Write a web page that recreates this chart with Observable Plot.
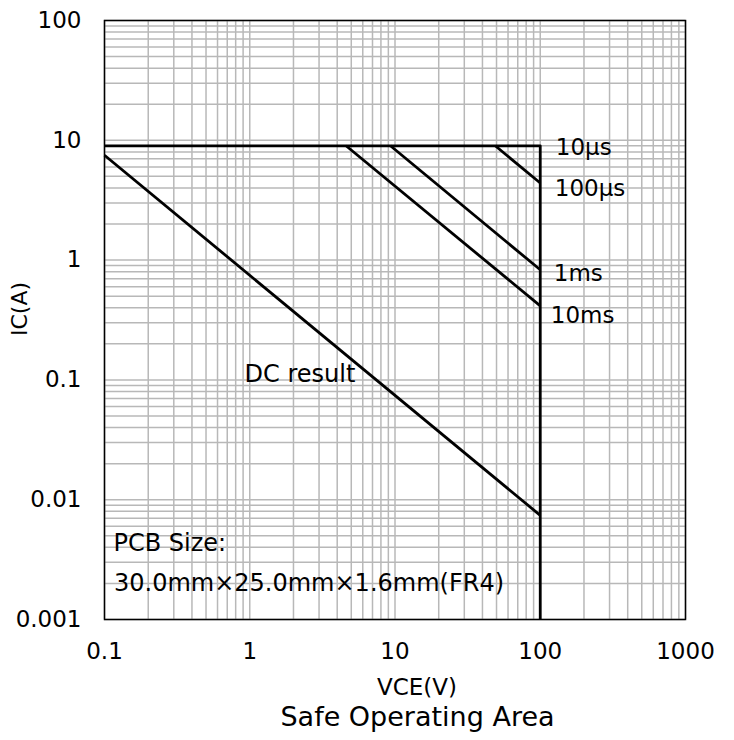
<!DOCTYPE html>
<html>
<head>
<meta charset="utf-8">
<script src="https://cdn.jsdelivr.net/npm/d3@7"></script>
<script src="https://cdn.jsdelivr.net/npm/@observablehq/plot@0.6"></script>
<style>
  body { margin: 0; background: #fff; }
  #wrap { position: relative; width: 734px; height: 740px; }
  #chart svg { display: block; }
  #title {
    position: absolute; left: 101px; width: 633px; top: 703px;
    text-align: center; font-family: "DejaVu Sans", sans-serif;
    font-size: 27px; line-height: 27px; color: #000;
  }
</style>
</head>
<body>
<div id="wrap"><div id="chart"></div><div id="title">Safe Operating Area</div></div>
<script>
// Axis ticks
const xTicks = [0.1, 1, 10, 100, 1000];
const xTickLabels = ["0.1", "1", "10", "100", "1000"];
const yTicks = [0.001, 0.01, 0.1, 1, 10, 100];
const yTickLabels = ["0.001", "0.01", "0.1", "1", "10", "100"];
const minorMultipliers = [1, 2, 3, 4, 5, 6, 7, 8, 9];

// SOA boundaries (VCE in V, IC in A)
const limitVce = [0.1, 100, 100];
const limitIc = [9, 9, 0.001];
const us100Vce = [49, 100];
const us100Ic = [9, 4.4];
const ms1Vce = [9.3, 100];
const ms1Ic = [9, 0.83];
const ms10Vce = [4.6, 100];
const ms10Ic = [9, 0.415];
const dcVce = [0.1, 100];
const dcIc = [7.5, 0.0074];

const seriesLabels = ["10µs", "100µs", "1ms", "10ms", "DC result"];
const noteLines = ["PCB Size:", "30.0mm×25.0mm×1.6mm(FR4)"];
const xLabel = "VCE(V)";
const yLabel = "IC(A)";

const rows = (vs, is) => vs.map((v, k) => ({vce: v, ic: is[k]}));
const decadeGrid = (ticks) => ticks.slice(0, -1).flatMap(d => minorMultipliers.map(m => d * m)).concat(ticks.slice(-1));
const xGrid = decadeGrid(xTicks);
const yGrid = decadeGrid(yTicks);

const FONT = "DejaVu Sans";
const lineStyle = {x: "vce", y: "ic", stroke: "#000", strokeWidth: 2.8, strokeLinecap: "butt"};
const lab = (vs, is, k, label) => [{vce: vs[k], ic: is[k], label}];
const dcMid = [{vce: Math.sqrt(dcVce[0] * dcVce[1]), ic: Math.sqrt(dcIc[0] * dcIc[1]), label: seriesLabels[4]}];

const chart = Plot.plot({
  width: 734,
  height: 703,
  marginLeft: 104,
  marginRight: 49,
  marginTop: 20,
  marginBottom: 84,
  style: {fontFamily: FONT, color: "#000", background: "#fff"},
  x: {type: "log", domain: [0.1, 1000]},
  y: {type: "log", domain: [0.001, 100]},
  marks: [
    Plot.gridX(xGrid, {stroke: "#b8b8b8", strokeOpacity: 1, strokeWidth: 1.5}),
    Plot.gridY(yGrid, {stroke: "#b8b8b8", strokeOpacity: 1, strokeWidth: 1.5}),
    Plot.frame({stroke: "#000", strokeWidth: 1.5}),
    Plot.axisX(xTicks, {tickSize: 0, tickPadding: 23, fontSize: 23, label: null,
      tickFormat: d => xTickLabels[xTicks.indexOf(d)]}),
    Plot.axisY(yTicks, {tickSize: 0, tickPadding: 23, fontSize: 23, label: null,
      tickFormat: d => yTickLabels[yTicks.indexOf(d)]}),
    Plot.line(rows(limitVce, limitIc), lineStyle),
    Plot.line(rows(us100Vce, us100Ic), lineStyle),
    Plot.line(rows(ms1Vce, ms1Ic), lineStyle),
    Plot.line(rows(ms10Vce, ms10Ic), lineStyle),
    Plot.line(rows(dcVce, dcIc), lineStyle),
    Plot.text(lab(limitVce, limitIc, 1, seriesLabels[0]), {x: "vce", y: "ic", text: "label", textAnchor: "start", fontSize: 23, dx: 15.5, dy: 2, fill: "#000"}),
    Plot.text(lab(us100Vce, us100Ic, 1, seriesLabels[1]), {x: "vce", y: "ic", text: "label", textAnchor: "start", fontSize: 23, dx: 14.5, dy: 6, fill: "#000"}),
    Plot.text(lab(ms1Vce, ms1Ic, 1, seriesLabels[2]), {x: "vce", y: "ic", text: "label", textAnchor: "start", fontSize: 23, dx: 13.5, dy: 4, fill: "#000"}),
    Plot.text(lab(ms10Vce, ms10Ic, 1, seriesLabels[3]), {x: "vce", y: "ic", text: "label", textAnchor: "start", fontSize: 23, dx: 10.5, dy: 10, fill: "#000"}),
    Plot.text(dcMid, {x: "vce", y: "ic", text: "label", textAnchor: "end", fontSize: 24, dx: 33, dy: 39, fill: "#000"}),
    Plot.text([noteLines[0]], {frameAnchor: "bottom-left", textAnchor: "start", lineAnchor: "middle", fontSize: 24, dx: 9, dy: -76, fill: "#000"}),
    Plot.text([noteLines[1]], {frameAnchor: "bottom-left", textAnchor: "start", lineAnchor: "middle", fontSize: 24, dx: 9.5, dy: -36, fill: "#000"}),
    Plot.text([xLabel], {frameAnchor: "bottom", textAnchor: "middle", lineAnchor: "middle", fontSize: 23, dx: 22, dy: 68, fill: "#000"}),
    Plot.text([yLabel], {frameAnchor: "left", textAnchor: "middle", lineAnchor: "middle", fontSize: 22, rotate: -90, dx: -85, dy: -11, fill: "#000"})
  ]
});
document.getElementById("chart").appendChild(chart);
</script>
</body>
</html>
